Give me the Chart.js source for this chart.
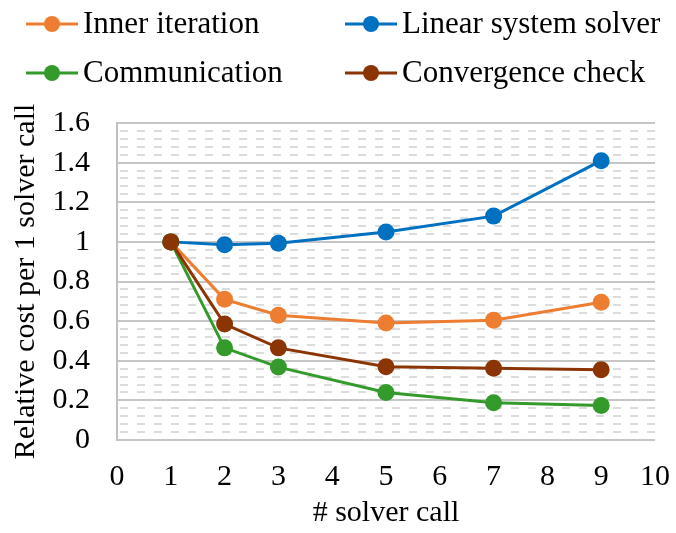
<!DOCTYPE html>
<html>
<head>
<meta charset="utf-8">
<script src="https://cdn.jsdelivr.net/npm/chart.js@4/dist/chart.umd.min.js"></script>
<style>
  html, body { margin: 0; padding: 0; background: #fff; }
  #wrap { width: 676px; height: 533px; position: relative; }
</style>
</head>
<body>
<div id="wrap"><canvas id="chart"></canvas></div>
<script>
// solver call counts (x) and relative costs (y)
var solverCalls = [1, 2, 3, 5, 7, 9];
var innerIteration = [1, 0.71, 0.63, 0.59, 0.605, 0.695];
var linearSolver = [1, 0.985, 0.993, 1.05, 1.13, 1.41];
var communication = [1, 0.465, 0.368, 0.24, 0.188, 0.174];
var convergenceCheck = [1, 0.585, 0.465, 0.37, 0.362, 0.354];
var seriesNames = ["Inner iteration", "Linear system solver", "Communication", "Convergence check"];
var seriesColors = ["#ED7D31", "#0070C0", "#339A2B", "#8B3505"];

function toPoints(ys) {
  var pts = [];
  for (var i = 0; i < solverCalls.length; i++) {
    pts.push({ x: solverCalls[i], y: ys[i] });
  }
  return pts;
}

Chart.defaults.font.family = "'Liberation Serif', 'Times New Roman', serif";
Chart.defaults.color = "#000";

// dashed minor grid lines every 0.04
var minorGrid = {
  id: "minorGrid",
  beforeDatasetsDraw: function (chart) {
    var ctx = chart.ctx;
    var area = chart.chartArea;
    var y = chart.scales.y;
    ctx.save();
    ctx.strokeStyle = "#dcdcdc";
    ctx.lineWidth = 2;
    ctx.setLineDash([8, 9]);
    for (var i = 1; i < 40; i++) {
      if (i % 5 === 0) continue;
      var py = Math.round(y.getPixelForValue(i * 0.04));
      ctx.beginPath();
      ctx.moveTo(area.left + 3, py);
      ctx.lineTo(area.right + 2, py);
      ctx.stroke();
    }
    ctx.restore();
  }
};

// two-row legend with line + dot markers
var customLegend = {
  id: "customLegend",
  afterDraw: function (chart) {
    var ctx = chart.ctx;
    var spots = [[26, 24], [345, 24], [26, 73], [345, 73]];
    ctx.save();
    for (var i = 0; i < seriesNames.length; i++) {
      var x = spots[i][0], y = spots[i][1];
      ctx.strokeStyle = seriesColors[i];
      ctx.fillStyle = seriesColors[i];
      ctx.lineWidth = 3;
      ctx.beginPath();
      ctx.moveTo(x, y);
      ctx.lineTo(x + 52, y);
      ctx.stroke();
      ctx.beginPath();
      ctx.arc(x + 26, y, 8, 0, Math.PI * 2);
      ctx.fill();
      ctx.fillStyle = "#000";
      ctx.font = "31px 'Liberation Serif'";
      ctx.textBaseline = "middle";
      ctx.fillText(seriesNames[i], x + 57, y + 1);
    }
    ctx.restore();
  }
};

var allSeries = [innerIteration, linearSolver, communication, convergenceCheck];
var datasets = [];
for (var k = 0; k < allSeries.length; k++) {
  datasets.push({
    label: seriesNames[k],
    data: toPoints(allSeries[k]),
    borderColor: seriesColors[k],
    backgroundColor: seriesColors[k],
    borderWidth: 3,
    pointRadius: 8.5,
    pointBorderWidth: 0,
    pointHoverRadius: 8.5,
    tension: 0,
    clip: false,
    order: 4 - k
  });
}

var ctx = document.getElementById("chart").getContext("2d");
var chart = new Chart(ctx, {
  type: "line",
  data: { datasets: datasets },
  options: {
    responsive: true,
    maintainAspectRatio: false,
    animation: false,
    layout: { padding: { top: 123, right: 21, bottom: 2, left: 0 } },
    plugins: {
      legend: { display: false },
      tooltip: { enabled: false }
    },
    scales: {
      x: {
        type: "linear",
        min: 0,
        max: 10,
        ticks: { stepSize: 1, font: { size: 30 }, padding: 19, maxRotation: 0 },
        grid: { display: false, drawTicks: false },
        border: { display: false },
        title: { display: true, text: "# solver call", font: { size: 30 }, padding: { top: 0, bottom: 0 } },
        afterFit: function (scale) {
          scale.height = 91;
          scale.paddingLeft = 0;
          scale.paddingRight = 0;
        }
      },
      y: {
        min: 0,
        max: 1.6,
        ticks: {
          stepSize: 0.2,
          font: { size: 30 },
          padding: 27,
          callback: function (v) { return String(+v.toFixed(1)); }
        },
        grid: { color: "#c6c6c6", lineWidth: 2, drawTicks: false },
        border: { display: true, color: "#c0c0c0", width: 2 },
        title: { display: true, text: "Relative cost per 1 solver call", font: { size: 30 }, padding: { top: 8, bottom: 0 } },
        afterFit: function (scale) {
          scale.width = 117;
          scale.paddingTop = 0;
          scale.paddingBottom = 0;
        }
      }
    }
  },
  plugins: [minorGrid, customLegend]
});
</script>
</body>
</html>
